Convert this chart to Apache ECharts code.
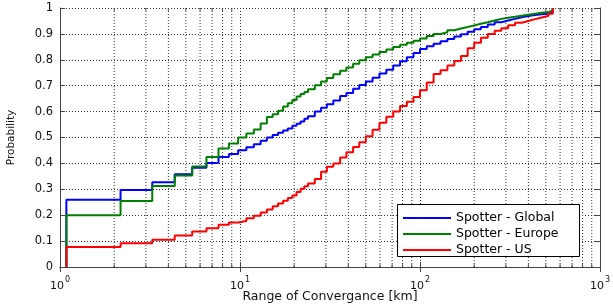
<!DOCTYPE html>
<html><head><meta charset="utf-8">
<script src="https://cdn.jsdelivr.net/npm/echarts@6/dist/echarts.min.js"></script>
<style>html,body{margin:0;padding:0;background:#fff}#c{width:613px;height:304px}</style>
</head><body><div id="c"></div>
<script>
// Range of convergence [km] at which the CDF values are read
const rangeKm = [1.085, 2.17, 3.255, 4.34, 5.425, 6.51, 7.595, 8.68, 9.765, 10.85,
  11.935, 13.02, 14.105, 15.19, 16.275, 17.36, 18.445, 19.53, 20.615, 21.7,
  22.785, 23.87, 26.04, 28.21, 30.38, 33, 36, 39, 42.5, 46, 50, 54.5, 59.5, 65, 71, 77.5, 84.5, 92, 100,
  109, 119, 130, 142, 155, 169, 184, 200, 218, 238, 260, 283, 309, 337, 367, 400, 436, 475, 518, 546];
const globalP = [0.26, 0.297, 0.327, 0.358, 0.383, 0.402, 0.425, 0.436, 0.451, 0.462,
  0.474, 0.487, 0.5, 0.51, 0.518, 0.527, 0.535, 0.545, 0.553, 0.562,
  0.572, 0.582, 0.6, 0.615, 0.628, 0.643, 0.66, 0.672, 0.688, 0.703, 0.716, 0.731, 0.747, 0.762, 0.778, 0.794, 0.81, 0.826, 0.842,
  0.852, 0.862, 0.872, 0.88, 0.89, 0.899, 0.908, 0.918, 0.927, 0.936, 0.945, 0.952, 0.958, 0.964, 0.969, 0.973, 0.976, 0.979, 0.983, 1.0];
const europeP = [0.2, 0.255, 0.313, 0.353, 0.388, 0.425, 0.458, 0.477, 0.5, 0.515,
  0.531, 0.554, 0.579, 0.59, 0.603, 0.62, 0.632, 0.645, 0.658, 0.668,
  0.676, 0.686, 0.702, 0.716, 0.73, 0.744, 0.758, 0.77, 0.785, 0.798, 0.81, 0.82, 0.83, 0.84, 0.849, 0.858, 0.866, 0.874, 0.882,
  0.892, 0.9, 0.906, 0.914, 0.921, 0.927, 0.933, 0.939, 0.945, 0.952, 0.958, 0.962, 0.966, 0.97, 0.974, 0.978, 0.982, 0.985, 0.99, 1.0];
const usP = [0.077, 0.092, 0.105, 0.122, 0.137, 0.15, 0.163, 0.172, 0.178, 0.188,
  0.198, 0.21, 0.222, 0.235, 0.245, 0.256, 0.266, 0.276, 0.29, 0.302,
  0.312, 0.322, 0.34, 0.368, 0.387, 0.4, 0.423, 0.443, 0.463, 0.482, 0.505, 0.53, 0.557, 0.58, 0.6, 0.622, 0.638, 0.656, 0.682,
  0.712, 0.745, 0.76, 0.778, 0.795, 0.815, 0.845, 0.866, 0.885, 0.9, 0.912, 0.922, 0.933, 0.943, 0.95, 0.957, 0.963, 0.97, 0.978, 1.0];
const seriesNames = ['Spotter - Global', 'Spotter - Europe', 'Spotter - US'];
const seriesColors = ['#0000ff', '#008000', '#ff0000'];
const xTitle = 'Range of Convergance [km]';
const yTitle = 'Probability';

// minor (2..9 per decade) log-axis positions for dotted grid lines and small ticks
const minorX = [];
[1, 10, 100].forEach(d => { for (let m = 2; m <= 9; m++) minorX.push(m * d); });
const minorGrid = [], minorTicks = [];
minorX.forEach(v => {
  minorGrid.push([v, 0], [v, 1], [v, '-']);
  minorTicks.push([v, 0], [v, 0.011], [v, '-'], [v, 1], [v, 0.989], [v, '-']);
});

function cdf(ys) {
  const out = [[rangeKm[0], 0]];
  ys.forEach((y, i) => out.push([rangeKm[i], y]));
  return out;
}
const font = 'DejaVu Sans';
const frame = {show: true, lineStyle: {color: '#444', width: 1}};
const dotted = {show: true, lineStyle: {color: '#333', width: 1, type: [1, 2]}};
const tick = {show: true, inside: true, length: 5, lineStyle: {color: '#444'}};

const chart = echarts.init(document.getElementById('c'), null, {renderer: 'canvas'});
chart.setOption({
  animation: false,
  backgroundColor: '#fff',
  grid: {left: 60, right: 13, top: 8, bottom: 37, containLabel: false, outerBoundsMode: 'none'},
  xAxis: [{
    type: 'log', logBase: 10, min: 1, max: 1000, position: 'bottom',
    name: xTitle, nameLocation: 'middle', nameGap: 23, nameMoveOverlap: false,
    nameTextStyle: {fontFamily: font, fontSize: 12.5, color: '#111'},
    axisLine: frame, axisTick: tick, splitLine: dotted,
    axisLabel: {
      margin: 6, fontFamily: font,
      formatter: v => '{b|10}{s|' + Math.round(Math.log10(v)) + '}',
      rich: {
        b: {fontSize: 11, fontFamily: font, color: '#111', padding: [8, 0, 0, 0]},
        s: {fontSize: 8, fontFamily: font, color: '#111', padding: [0, 0, 6, 1]}
      }
    }
  }, {
    type: 'log', logBase: 10, min: 1, max: 1000, position: 'top',
    axisLine: frame, axisTick: tick,
    axisLabel: {show: false}, splitLine: {show: false}
  }],
  yAxis: [{
    type: 'value', min: 0, max: 1, interval: 0.1, position: 'left',
    name: yTitle, nameLocation: 'middle', nameGap: 43, nameMoveOverlap: false,
    nameTextStyle: {fontFamily: font, fontSize: 10.5, color: '#111'},
    axisLine: frame, axisTick: tick, splitLine: dotted,
    axisLabel: {margin: 7, fontFamily: font, fontSize: 11.5, color: '#111'}
  }, {
    type: 'value', min: 0, max: 1, interval: 0.1, position: 'right',
    axisLine: frame, axisTick: tick,
    axisLabel: {show: false}, splitLine: {show: false}
  }],
  graphic: [{
    type: 'rect', z: 50, silent: true,
    shape: {x: 397.5, y: 204.5, width: 182, height: 52},
    style: {fill: '#fff', stroke: '#000', lineWidth: 1}
  }],
  legend: {
    data: seriesNames, orient: 'vertical', left: 397, top: 206, z: 60,
    icon: 'rect', itemWidth: 48, itemHeight: 2, itemGap: 2, padding: [5, 5, 2, 6],
    textStyle: {fontFamily: font, fontSize: 12.5, lineHeight: 14, color: '#000'}
  },
  series: [
    {
      type: 'line', name: '_grid', data: minorGrid, symbol: 'none', silent: true, z: 1,
      connectNulls: false, lineStyle: {color: '#333', width: 1, type: [1, 2]}
    },
    {
      type: 'line', name: '_ticks', data: minorTicks, symbol: 'none', silent: true, z: 1,
      connectNulls: false, lineStyle: {color: '#444', width: 1}
    },
    ...[globalP, europeP, usP].map((ys, i) => ({
      type: 'line', name: seriesNames[i], data: cdf(ys), step: 'end',
      symbol: 'none', z: 3,
      lineStyle: {color: seriesColors[i], width: 2},
      itemStyle: {color: seriesColors[i]}
    }))
  ]
});
</script></body></html>
